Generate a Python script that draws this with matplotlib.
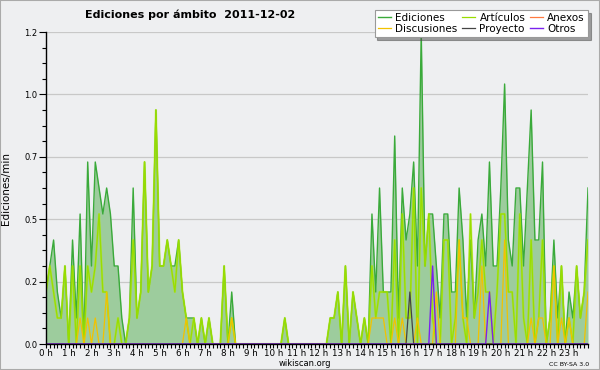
import matplotlib
matplotlib.use("Agg")
import matplotlib.pyplot as plt
from matplotlib.ticker import FixedLocator, MultipleLocator, FormatStrFormatter

# Ediciones por minuto, intervalos de 10 minutos (0:00 .. 23:50), 6 valores por hora
ediciones = [
    0.2, 0.3, 0.4, 0.2, 0.1, 0.3,   # 0 h
    0.0, 0.4, 0.1, 0.5, 0.0, 0.7,   # 1 h
    0.3, 0.7, 0.6, 0.5, 0.6, 0.5,   # 2 h
    0.3, 0.3, 0.1, 0.0, 0.1, 0.6,   # 3 h
    0.1, 0.2, 0.7, 0.2, 0.3, 0.9,   # 4 h
    0.3, 0.3, 0.4, 0.3, 0.3, 0.4,   # 5 h
    0.2, 0.1, 0.1, 0.1, 0.0, 0.1,   # 6 h
    0.0, 0.1, 0.0, 0.0, 0.0, 0.3,   # 7 h
    0.0, 0.2, 0.0, 0.0, 0.0, 0.0,   # 8 h
    0.0, 0.0, 0.0, 0.0, 0.0, 0.0,   # 9 h
    0.0, 0.0, 0.0, 0.1, 0.0, 0.0,   # 10 h
    0.0, 0.0, 0.0, 0.0, 0.0, 0.0,   # 11 h
    0.0, 0.0, 0.0, 0.1, 0.1, 0.2,   # 12 h
    0.0, 0.3, 0.0, 0.2, 0.1, 0.0,   # 13 h
    0.1, 0.0, 0.5, 0.2, 0.6, 0.2,   # 14 h
    0.2, 0.2, 0.8, 0.1, 0.6, 0.4,   # 15 h
    0.5, 0.7, 0.3, 1.2, 0.3, 0.5,   # 16 h
    0.5, 0.3, 0.1, 0.5, 0.5, 0.2,   # 17 h
    0.2, 0.6, 0.4, 0.1, 0.4, 0.1,   # 18 h
    0.4, 0.5, 0.3, 0.7, 0.3, 0.3,   # 19 h
    0.6, 1.0, 0.4, 0.3, 0.6, 0.6,   # 20 h
    0.3, 0.6, 0.9, 0.4, 0.4, 0.7,   # 21 h
    0.0, 0.1, 0.4, 0.1, 0.3, 0.0,   # 22 h
    0.2, 0.1, 0.3, 0.1, 0.2, 0.6,   # 23 h
]
articulos = [
    0.2, 0.3, 0.2, 0.1, 0.1, 0.3,
    0.0, 0.3, 0.0, 0.3, 0.0, 0.3,
    0.2, 0.3, 0.5, 0.2, 0.2, 0.0,
    0.0, 0.1, 0.0, 0.0, 0.1, 0.4,
    0.1, 0.2, 0.7, 0.2, 0.3, 0.9,
    0.3, 0.3, 0.4, 0.3, 0.2, 0.4,
    0.2, 0.1, 0.0, 0.1, 0.0, 0.1,
    0.0, 0.1, 0.0, 0.0, 0.0, 0.3,
    0.0, 0.1, 0.0, 0.0, 0.0, 0.0,
    0.0, 0.0, 0.0, 0.0, 0.0, 0.0,
    0.0, 0.0, 0.0, 0.1, 0.0, 0.0,
    0.0, 0.0, 0.0, 0.0, 0.0, 0.0,
    0.0, 0.0, 0.0, 0.1, 0.1, 0.2,
    0.0, 0.3, 0.0, 0.2, 0.1, 0.0,
    0.1, 0.0, 0.3, 0.1, 0.2, 0.2,
    0.2, 0.0, 0.4, 0.0, 0.5, 0.1,
    0.1, 0.6, 0.0, 0.6, 0.3, 0.5,
    0.1, 0.0, 0.0, 0.4, 0.4, 0.0,
    0.1, 0.4, 0.1, 0.0, 0.5, 0.1,
    0.2, 0.4, 0.2, 0.2, 0.0, 0.2,
    0.5, 0.5, 0.2, 0.2, 0.0, 0.5,
    0.1, 0.0, 0.4, 0.0, 0.1, 0.4,
    0.0, 0.1, 0.3, 0.0, 0.3, 0.0,
    0.1, 0.0, 0.3, 0.1, 0.2, 0.4,
]
discusiones = [
    0.0, 0.0, 0.0, 0.0, 0.0, 0.0,
    0.0, 0.0, 0.0, 0.1, 0.0, 0.1,
    0.0, 0.1, 0.0, 0.0, 0.2, 0.0,
    0.0, 0.0, 0.0, 0.0, 0.0, 0.0,
    0.0, 0.0, 0.0, 0.0, 0.0, 0.0,
    0.0, 0.0, 0.0, 0.0, 0.0, 0.0,
    0.0, 0.1, 0.0, 0.0, 0.0, 0.0,
    0.0, 0.0, 0.0, 0.0, 0.0, 0.0,
    0.0, 0.1, 0.0, 0.0, 0.0, 0.0,
    0.0, 0.0, 0.0, 0.0, 0.0, 0.0,
    0.0, 0.0, 0.0, 0.0, 0.0, 0.0,
    0.0, 0.0, 0.0, 0.0, 0.0, 0.0,
    0.0, 0.0, 0.0, 0.0, 0.0, 0.0,
    0.0, 0.0, 0.0, 0.0, 0.0, 0.0,
    0.0, 0.0, 0.1, 0.1, 0.1, 0.1,
    0.0, 0.0, 0.1, 0.0, 0.1, 0.0,
    0.0, 0.0, 0.1, 0.0, 0.0, 0.0,
    0.0, 0.2, 0.0, 0.0, 0.0, 0.0,
    0.0, 0.4, 0.1, 0.1, 0.0, 0.0,
    0.0, 0.3, 0.0, 0.0, 0.0, 0.0,
    0.0, 0.4, 0.0, 0.0, 0.0, 0.0,
    0.0, 0.0, 0.1, 0.0, 0.1, 0.1,
    0.0, 0.0, 0.3, 0.0, 0.1, 0.0,
    0.1, 0.0, 0.0, 0.0, 0.0, 0.2,
]
anexos = [0.0] * 144          # no se ve ninguna edición
proyecto = {96: 0.2}          # índice del intervalo -> valor
otros = {102: 0.3, 117: 0.2}

hour_labels = [f"{h} h" for h in range(24)]
y_ticks = [0.0, 0.24, 0.48, 0.72, 0.96, 1.2]

x = [i / 6 for i in range(len(ediciones))]
proy_y = [proyecto.get(i, 0.0) for i in range(len(x))]
otros_y = [otros.get(i, 0.0) for i in range(len(x))]

bg = "#eeeff1"
fig = plt.figure(figsize=(6, 3.7), dpi=100, facecolor=bg)
ax = fig.add_axes([46 / 600, 1 - 344 / 370, 542 / 600, 312 / 370])
ax.set_facecolor(bg)

ax.fill_between(x, ediciones, color="#9dcc9d", lw=0)
ax.plot(x, ediciones, color="#3aaa3a", lw=1.0, label="Ediciones")
ax.plot(x, articulos, color="#b4ee00", lw=1.6, alpha=0.5)
ax.plot(x, articulos, color="#99dd00", lw=0.9, label="Artículos")
ax.plot(x, anexos, color="#ff7a40", lw=0.9, label="Anexos")
ax.plot(x, discusiones, color="#f2c200", lw=0.9, label="Discusiones")
ax.plot(x, proy_y, color="#444444", lw=0.9, label="Proyecto")
ax.plot(x, otros_y, color="#7a22ee", lw=1.0, label="Otros")

ax.set_xlim(0, x[-1])
ax.set_ylim(0, 1.2)

ax.yaxis.set_major_locator(FixedLocator(y_ticks))
ax.yaxis.set_minor_locator(MultipleLocator(0.06))
ax.yaxis.set_major_formatter(FormatStrFormatter("%.1f"))
ax.set_xticks(range(24))
ax.set_xticklabels(hour_labels)
ax.xaxis.set_minor_locator(MultipleLocator(1 / 6))

ax.tick_params(axis="y", which="major", length=5, width=0.8, labelsize=6, pad=1)
ax.tick_params(axis="y", which="minor", length=3, width=0.8)
ax.tick_params(axis="x", which="both", length=3, width=0.8, labelsize=6.3, pad=0.5)
ax.grid(axis="y", color="#c8c8c8", lw=0.9)
ax.set_axisbelow(True)
for s in ("top", "right"):
    ax.spines[s].set_visible(False)
for s in ("left", "bottom"):
    ax.spines[s].set_linewidth(1.0)

ax.set_ylabel("Ediciones/min", fontsize=7.5, labelpad=10)

handles, labels = ax.get_legend_handles_labels()
order = ["Ediciones", "Discusiones", "Artículos", "Proyecto", "Anexos", "Otros"]
hmap = dict(zip(labels, handles))
leg = fig.legend([hmap[k] for k in order], order, ncol=3, loc="upper right",
                 bbox_to_anchor=(588 / 600, 1 - 10 / 370), fontsize=7.5,
                 frameon=True, fancybox=False, shadow=True, handlelength=1.3,
                 handletextpad=0.4, columnspacing=0.4, labelspacing=0.05,
                 borderpad=0.3, borderaxespad=0)
leg.get_frame().set_edgecolor("#999999")
leg.get_frame().set_linewidth(0.8)

fig.text(85 / 600, 1 - 15 / 370, "Ediciones por ámbito  2011-12-02",
         fontsize=8, fontweight="bold", ha="left", va="center")
fig.text(305 / 600, 1 - 364 / 370, "wikiscan.org", fontsize=6,
         ha="center", va="center")
fig.text(589 / 600, 1 - 364 / 370, "CC BY-SA 3.0", fontsize=4.5,
         ha="right", va="center")

fig.patches.append(plt.Rectangle((0, 0), 1, 1, transform=fig.transFigure,
                                 fill=False, edgecolor="#aaaaaa", lw=1.5))

fig.savefig("out.png", dpi=100, facecolor=bg)
